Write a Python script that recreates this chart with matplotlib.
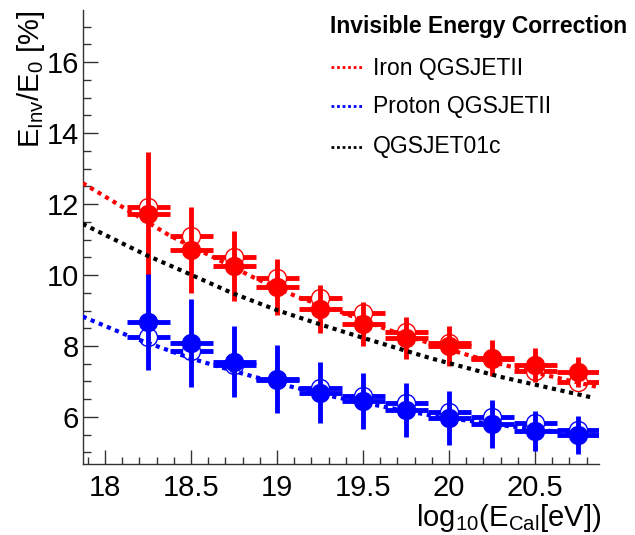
import matplotlib
matplotlib.use("Agg")
import matplotlib.pyplot as plt
import numpy as np
from matplotlib.lines import Line2D
from matplotlib.ticker import MultipleLocator

plt.rcParams['font.family'] = ['Liberation Sans', 'DejaVu Sans']
plt.rcParams['mathtext.fontset'] = 'custom'
plt.rcParams['mathtext.rm'] = 'Liberation Sans'
plt.rcParams['mathtext.it'] = 'Liberation Sans:italic'

# energy bins (bin centres, log10 E/eV) and half bin width
log_e = [18.25, 18.5, 18.75, 19.0, 19.25, 19.5, 19.75, 20.0, 20.25, 20.5, 20.75]
bin_half = 0.125

# iron: reconstructed (filled) with errors, and MC truth (open)
iron_reco = [11.72, 10.70, 10.25, 9.66, 9.04, 8.62, 8.23, 8.00, 7.66, 7.47, 7.27]
iron_reco_err = [1.75, 1.22, 0.98, 0.80, 0.68, 0.62, 0.60, 0.57, 0.50, 0.48, 0.42]
iron_mc = [11.92, 11.10, 10.50, 9.92, 9.36, 8.93, 8.39, 8.08, 7.62, 7.30, 6.99]

# proton: reconstructed (filled) with errors, and MC truth (open)
proton_reco = [8.68, 8.08, 7.55, 7.07, 6.69, 6.45, 6.20, 5.97, 5.80, 5.61, 5.49]
proton_reco_err = [1.36, 1.24, 1.00, 0.96, 0.85, 0.80, 0.76, 0.75, 0.67, 0.57, 0.53]
proton_mc = [8.26, 7.86, 7.46, 7.05, 6.82, 6.59, 6.39, 6.14, 6.00, 5.83, 5.63]

# parametrisations
iron_fit_x = [17.87, 18.10, 18.38, 18.63, 18.86, 19.12, 19.37, 19.65, 20.00, 20.25, 20.50, 20.75, 20.86]
iron_fit_y = [12.59, 11.92, 11.10, 10.50, 9.94, 9.38, 8.96, 8.45, 7.90, 7.55, 7.25, 6.97, 6.85]
proton_fit_x = [17.87, 18.15, 18.50, 18.78, 19.06, 19.34, 19.63, 19.92, 20.30, 20.60, 20.85]
proton_fit_y = [8.83, 8.26, 7.65, 7.25, 6.88, 6.56, 6.28, 6.02, 5.77, 5.60, 5.48]
qgs01_fit_x = [17.87, 18.24, 18.49, 18.74, 19.00, 19.25, 19.50, 19.89, 20.30, 20.84]
qgs01_fit_y = [11.44, 10.56, 10.03, 9.49, 9.01, 8.61, 8.23, 7.66, 7.13, 6.54]

legend_title = "Invisible Energy Correction"
legend_labels = ["Iron QGSJETII", "Proton QGSJETII", "QGSJET01c"]
legend_colors = ["#ff0000", "#0000ff", "#000000"]

W, H = 635, 535
fig = plt.figure(figsize=(W / 100, H / 100), dpi=100)
ax = fig.add_axes([83 / W, 1 - 464 / H, (599 - 83) / W, (464 - 10) / H])
ax.set_xlim(17.872, 20.872)
ax.set_ylim(4.676, 17.465)

red, blue = "#ff0000", "#0000ff"
ms = 13
lw_bar = 3.5
dotted = (0, (1, 1.1))
gap = 0.052

x = np.array(log_e)
for color, reco, err, mc in [(red, iron_reco, iron_reco_err, iron_mc),
                             (blue, proton_reco, proton_reco_err, proton_mc)]:
    mc = np.array(mc)
    # open markers with horizontal bars stopping at the marker edge
    ax.hlines(mc, x - bin_half, x - gap, color=color, lw=lw_bar, zorder=2)
    ax.hlines(mc, x + gap, x + bin_half, color=color, lw=lw_bar, zorder=2)
    ax.plot(x, mc, 'o', ms=ms, mfc='none', mec=color, mew=1.0, zorder=2)
    # filled markers with full error bars
    ax.errorbar(x, reco, yerr=err, xerr=bin_half, fmt='o', ms=ms, color=color,
                elinewidth=lw_bar, capsize=0, zorder=3)

ax.plot(iron_fit_x, iron_fit_y, color=red, lw=3.0, ls=dotted, zorder=4)
ax.plot(proton_fit_x, proton_fit_y, color=blue, lw=3.0, ls=dotted, zorder=4)
ax.plot(qgs01_fit_x, qgs01_fit_y, color="black", lw=3.0, ls=dotted, zorder=4)

# ROOT-like axes: only left and bottom, ticks pointing inward
for s in ("top", "right"):
    ax.spines[s].set_visible(False)
for s in ("left", "bottom"):
    ax.spines[s].set_color("#333333")
    ax.spines[s].set_linewidth(1.0)

ax.xaxis.set_major_locator(MultipleLocator(0.5))
ax.xaxis.set_minor_locator(MultipleLocator(0.1))
ax.yaxis.set_major_locator(MultipleLocator(2))
ax.yaxis.set_minor_locator(MultipleLocator(0.5))
ax.set_xticks(np.arange(18, 20.6, 0.5))
ax.set_xticklabels(["18", "18.5", "19", "19.5", "20", "20.5"])
ax.set_yticks(np.arange(6, 16.1, 2))
ax.set_yticklabels(["6", "8", "10", "12", "14", "16"])

ax.tick_params(axis='both', which='both', direction='in', color="#333333", width=1.0,
               labelsize=21, top=False, right=False)
ax.tick_params(axis='x', which='major', length=10, pad=7)
ax.tick_params(axis='x', which='minor', length=5)
ax.tick_params(axis='y', which='major', length=11, pad=3)
ax.tick_params(axis='y', which='minor', length=5.5)

fig.text(601 / W, 1 - 526 / H, r"log$_{10}$(E$_{\mathrm{Cal}}$[eV])", ha='right',
         va='baseline', fontsize=21)
fig.text(31 / W, 1 - 10 / H, r"E$_{\mathrm{Inv}}$/E$_0$ [%]", rotation=90, ha='center',
         va='top', fontsize=21)

# legend
fig.text(330 / W, 1 - 33 / H, legend_title, fontsize=16.5, fontweight='bold',
         ha='left', va='baseline')
for i, (lab, col) in enumerate(zip(legend_labels, legend_colors)):
    y_line = [67, 106, 147][i]
    y_text = [75, 113, 153][i]
    fig.add_artist(Line2D([331 / W, 362 / W], [1 - y_line / H] * 2, color=col, lw=2.0,
                          ls=(0, (1, 1)), transform=fig.transFigure))
    fig.text(373 / W, 1 - y_text / H, lab, fontsize=16.5, ha='left', va='baseline')

fig.savefig("out.png", dpi=100)
